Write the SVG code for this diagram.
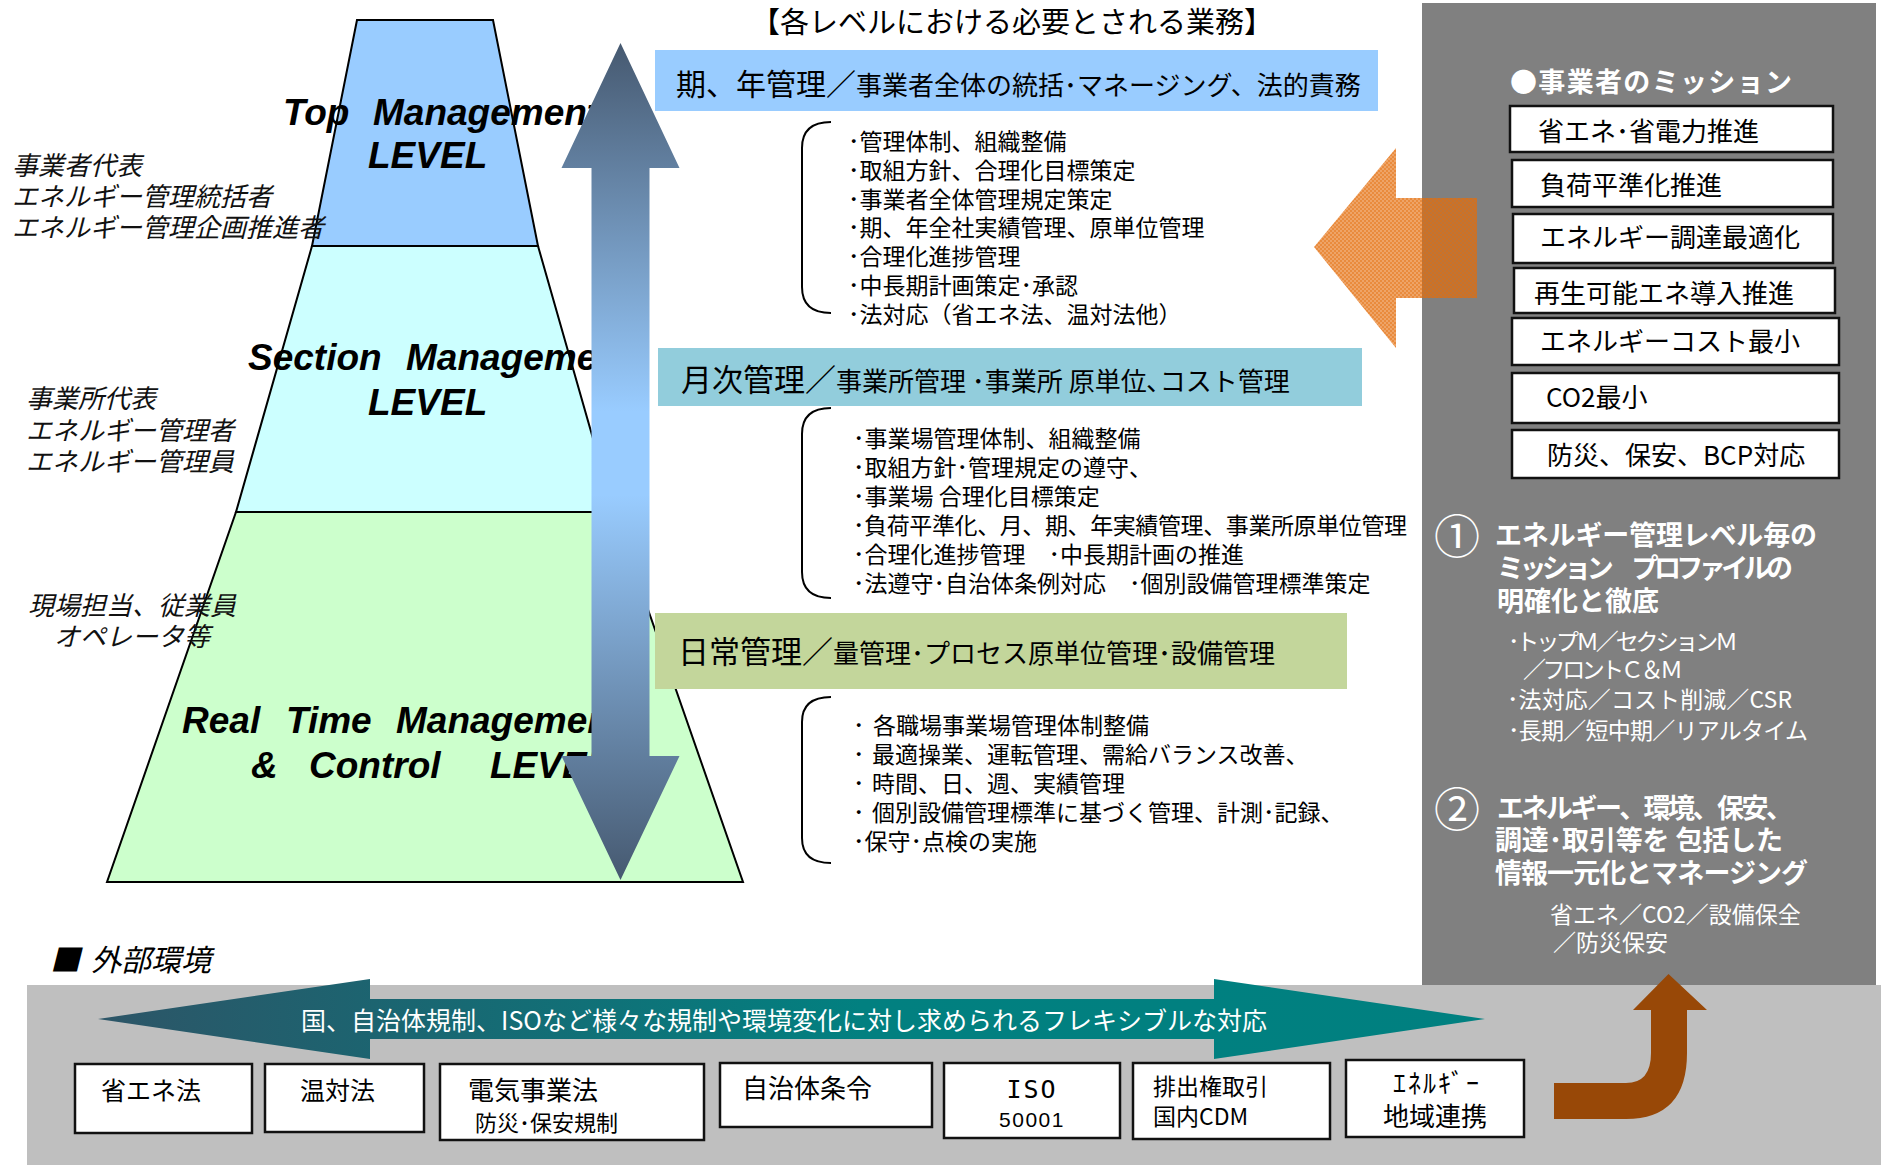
<svg xmlns="http://www.w3.org/2000/svg" width="1881" height="1165" viewBox="0 0 1881 1165">
<style>
.jp{font-family:"Noto Sans CJK JP","Noto Sans",sans-serif;fill:#000}
.lvl{font-family:"Liberation Sans",Arial,sans-serif;font-weight:bold;font-style:italic;font-size:37px;fill:#000}
.role{font-family:"Noto Sans CJK JP",sans-serif;font-style:italic;font-size:26px;fill:#111}
.bul{font-size:23px}
.big{font-size:30px}
.sml{font-size:26px}
.mis{font-size:26px}
.wb{font-family:"Noto Sans CJK JP",sans-serif;font-weight:bold;font-size:27px;fill:#fff}
.ws{font-family:"Noto Sans CJK JP",sans-serif;font-size:23px;fill:#fff}
.num{font-family:"Noto Sans CJK JP",sans-serif;font-size:46px;fill:#fff}
.box{fill:#fff;stroke:#111;stroke-width:2.5}
.pyr{stroke:#000;stroke-width:2}
.brace{fill:none;stroke:#000;stroke-width:2}
</style>
<defs>
<linearGradient id="vgrad" gradientUnits="userSpaceOnUse" x1="0" y1="43" x2="0" y2="880">
<stop offset="0" stop-color="#465970"/>
<stop offset="0.44" stop-color="#99CCFF"/>
<stop offset="0.54" stop-color="#99CCFF"/>
<stop offset="1" stop-color="#465970"/>
</linearGradient>
<linearGradient id="tgrad" gradientUnits="userSpaceOnUse" x1="98" y1="0" x2="1485" y2="0">
<stop offset="0" stop-color="#2D5567"/>
<stop offset="0.2" stop-color="#1C6470"/>
<stop offset="0.55" stop-color="#028080"/>
<stop offset="1" stop-color="#008080"/>
</linearGradient>
<pattern id="otex" width="4" height="4" patternUnits="userSpaceOnUse">
<rect width="4" height="4" fill="#E46C0A" fill-opacity="0.62"/>
<rect width="2" height="2" fill="#E46C0A" fill-opacity="0.45"/>
<rect x="2" y="2" width="2" height="2" fill="#E46C0A" fill-opacity="0.45"/>
</pattern>
</defs>
<rect width="1881" height="1165" fill="#fff"/>

<g id="pyramid">
<g id="level-top">
<polygon class="pyr" points="357,20 493,20 538,246 312,246" fill="#99CCFF"/>
<text class="lvl"><tspan x="283" y="125">Top</tspan><tspan x="373" y="125">Management</tspan><tspan x="368" y="168">LEVEL</tspan></text>
</g>
<g id="level-section">
<polygon class="pyr" points="312,246 538,246 614,512 236,512" fill="#CCFFFF"/>
<text class="lvl"><tspan x="248" y="370">Section</tspan><tspan x="406" y="370">Management</tspan><tspan x="368" y="415">LEVEL</tspan></text>
</g>
<g id="level-realtime">
<polygon class="pyr" points="236,512 614,512 743,882 107,882" fill="#CCFFCC"/>
<text class="lvl"><tspan x="182" y="733">Real</tspan><tspan x="286" y="733">Time</tspan><tspan x="396" y="733">Management</tspan><tspan x="251" y="778">&amp;</tspan><tspan x="309" y="778">Control</tspan><tspan x="490" y="778">LEVEL</tspan></text>
</g>
</g>

<g id="roles">
<text class="role"><tspan x="12" y="175">事業者代表</tspan><tspan x="12" y="206">エネルギー管理統括者</tspan><tspan x="12" y="237">エネルギー管理企画推進者</tspan></text>
<text class="role"><tspan x="26" y="408">事業所代表</tspan><tspan x="26" y="440">エネルギー管理者</tspan><tspan x="26" y="471">エネルギー管理員</tspan></text>
<text class="role" text-anchor="middle"><tspan x="132" y="615">現場担当、従業員</tspan><tspan x="132" y="646">オペレータ等</tspan></text>
</g>

<g id="title">
<text class="jp" x="1012" y="33" font-size="29" text-anchor="middle">【各レベルにおける必要とされる業務】</text>
</g>

<g id="band-top">
<rect x="655" y="50" width="723" height="61" fill="#99CCFF"/>
<text class="jp" x="676" y="95"><tspan class="big">期、年管理／</tspan><tspan class="sml">事業者全体の統括･マネージング、法的責務</tspan></text>
</g>
<g id="tasks-top">
<path class="brace" d="M831,122 C812,122 802,130 802,148 L802,287 C802,305 812,313 831,313"/>
<text class="jp bul">
<tspan x="848" y="150">･管理体制、組織整備</tspan>
<tspan x="848" y="178.8">･取組方針、合理化目標策定</tspan>
<tspan x="848" y="207.6">･事業者全体管理規定策定</tspan>
<tspan x="848" y="236.4">･期、年全社実績管理、原単位管理</tspan>
<tspan x="848" y="265.2">･合理化進捗管理</tspan>
<tspan x="848" y="294">･中長期計画策定･承認</tspan>
<tspan x="848" y="322.8">･法対応（省エネ法、温対法他）</tspan>
</text>
</g>

<g id="band-section">
<rect x="658" y="348" width="704" height="58" fill="#92CDDC"/>
<text class="jp" x="681" y="391"><tspan font-size="31">月次管理／</tspan><tspan class="sml">事業所管理 ･事業所 原単位､コスト管理</tspan></text>
</g>
<g id="tasks-section">
<path class="brace" d="M831,408 C812,408 802,416 802,434 L802,572 C802,590 812,598 831,598"/>
<text class="jp bul">
<tspan x="853" y="447">･事業場管理体制、組織整備</tspan>
<tspan x="853" y="476">･取組方針･管理規定の遵守、</tspan>
<tspan x="853" y="505">･事業場 合理化目標策定</tspan>
</text>
<text class="jp bul" x="853" y="534" textLength="554" lengthAdjust="spacing">･負荷平準化、月、期、年実績管理、事業所原単位管理</text>
<text class="jp bul">
<tspan x="853" y="563">･合理化進捗管理　･中長期計画の推進</tspan>
<tspan x="853" y="592">･法遵守･自治体条例対応　･個別設備管理標準策定</tspan>
</text>
</g>

<g id="band-realtime">
<rect x="655" y="613" width="692" height="76" fill="#C3D69B"/>
<text class="jp" x="678" y="663"><tspan font-size="31">日常管理／</tspan><tspan class="sml">量管理･プロセス原単位管理･設備管理</tspan></text>
</g>
<g id="tasks-realtime">
<path class="brace" d="M831,697 C812,697 802,705 802,722 L802,838 C802,855 812,863 831,863"/>
<text class="jp bul">
<tspan x="853" y="734">･</tspan><tspan x="873" y="734">各職場事業場管理体制整備</tspan>
<tspan x="853" y="763">･</tspan><tspan x="872" y="763">最適操業、運転管理、需給バランス改善、</tspan>
<tspan x="853" y="792">･</tspan><tspan x="872" y="792">時間、日、週、実績管理</tspan>
<tspan x="853" y="821">･</tspan><tspan x="872" y="821">個別設備管理標準に基づく管理、計測･記録、</tspan>
<tspan x="853" y="850">･保守･点検の実施</tspan>
</text>
</g>

<g id="mission-panel">
<rect x="1422" y="3" width="454" height="982" fill="#808080"/>
<text class="wb" x="1510" y="92" font-size="29" textLength="282" lengthAdjust="spacing">●事業者のミッション</text>
</g>

<g id="connectors">
<polygon id="vertical-arrow" points="620.5,43 679.5,168 649.5,168 649.5,756 679.5,756 620.5,880 561.5,756 591.5,756 591.5,168 561.5,168" fill="url(#vgrad)"/>
<polygon id="mission-arrow" points="1314,247 1396,148 1396,198 1477,198 1477,298 1396,298 1396,348" fill="url(#otex)"/>
</g>

<g id="mission-1"><rect class="box" x="1510" y="106" width="323" height="46"/><text class="jp mis" x="1538" y="141">省エネ･省電力推進</text></g>
<g id="mission-2"><rect class="box" x="1512" y="160" width="321" height="47"/><text class="jp mis" x="1540" y="195">負荷平準化推進</text></g>
<g id="mission-3"><rect class="box" x="1513" y="214" width="320" height="49"/><text class="jp mis" x="1540" y="247">エネルギー調達最適化</text></g>
<g id="mission-4"><rect class="box" x="1514" y="268" width="321" height="45"/><text class="jp mis" x="1534" y="303">再生可能エネ導入推進</text></g>
<g id="mission-5"><rect class="box" x="1512" y="318" width="327" height="47"/><text class="jp mis" x="1540" y="351">エネルギーコスト最小</text></g>
<g id="mission-6"><rect class="box" x="1512" y="373" width="327" height="50"/><text class="jp mis" x="1546" y="407">CO2最小</text></g>
<g id="mission-7"><rect class="box" x="1512" y="430" width="327" height="48"/><text class="jp mis" x="1547" y="465">防災、保安、BCP対応</text></g>

<g id="point-1">
<text class="num" x="1434" y="553">①</text>
<text class="wb" x="1495" y="545" textLength="322" lengthAdjust="spacing">エネルギー管理レベル毎の</text>
<text class="wb" x="1497" y="578" textLength="296" lengthAdjust="spacing">ミッション　プロファイルの</text>
<text class="wb" x="1497" y="611">明確化と徹底</text>
<text class="ws" x="1508" y="650" textLength="230" lengthAdjust="spacing">･トップＭ／セクションＭ</text>
<text class="ws" x="1523" y="678" textLength="160" lengthAdjust="spacing">／フロントＣ＆Ｍ</text>
<text class="ws" x="1507" y="708" textLength="285" lengthAdjust="spacing">･法対応／コスト削減／CSR</text>
<text class="ws" x="1508" y="739" textLength="300" lengthAdjust="spacing">･長期／短中期／リアルタイム</text>
</g>
<g id="point-2">
<text class="num" x="1434" y="826">②</text>
<text class="wb" x="1497" y="818" textLength="296" lengthAdjust="spacing">エネルギー、環境、保安、</text>
<text class="wb" x="1495" y="850" textLength="288" lengthAdjust="spacing">調達･取引等を 包括した</text>
<text class="wb" x="1495" y="883" textLength="313" lengthAdjust="spacing">情報一元化とマネージング</text>
<text class="ws" x="1550" y="923" font-size="24">省エネ／CO2／設備保全</text>
<text class="ws" x="1553" y="951" font-size="24">／防災保安</text>
</g>

<g id="external">
<text class="jp" font-style="italic" font-size="30"><tspan x="50" y="971">■</tspan><tspan x="91" y="971">外部環境</tspan></text>
<rect x="27" y="985" width="1854" height="180" fill="#BFBFBF"/>
</g>

<g id="connectors-external">
<polygon id="flex-arrow" points="98,1019 370,979 370,999 1214,999 1214,979 1485,1019 1214,1059 1214,1039 370,1039 370,1059" fill="url(#tgrad)"/>
<text class="jp" x="784" y="1030" font-size="25" text-anchor="middle" style="fill:#fff">国、自治体規制、ISOなど様々な規制や環境変化に対し求められるフレキシブルな対応</text>
<path id="up-arrow" d="M1554,1083 L1626,1083 Q1651,1083 1651,1053 L1651,1010 L1633,1010 L1668.5,974 L1707,1010 L1687,1010 L1687,1053 Q1687,1119 1626,1119 L1554,1119 Z" fill="#984807"/>
</g>

<g id="law-1"><rect class="box" x="75" y="1064" width="177" height="69"/><text class="jp" x="101" y="1100" font-size="25">省エネ法</text></g>
<g id="law-2"><rect class="box" x="265" y="1064" width="159" height="68"/><text class="jp" x="300" y="1100" font-size="25">温対法</text></g>
<g id="law-3"><rect class="box" x="440" y="1064" width="264" height="76"/><text class="jp"><tspan x="468" y="1100" font-size="26">電気事業法</tspan><tspan x="475" y="1131" font-size="22">防災･保安規制</tspan></text></g>
<g id="law-4"><rect class="box" x="720" y="1063" width="212" height="64"/><text class="jp" x="742" y="1098" font-size="26">自治体条令</text></g>
<g id="law-5"><rect class="box" x="944" y="1063" width="176" height="75"/><text text-anchor="middle" x="1032" y="1098" font-size="25" letter-spacing="2" style="font-family:'DejaVu Sans Mono',monospace">ISO</text><text text-anchor="middle" x="1032" y="1127" font-size="21" letter-spacing="1.5" style="font-family:'Liberation Sans',Arial,sans-serif">50001</text></g>
<g id="law-6"><rect class="box" x="1133" y="1063" width="197" height="76"/><text class="jp" font-size="23"><tspan x="1153" y="1095">排出権取引</tspan><tspan x="1153" y="1125">国内CDM</tspan></text></g>
<g id="law-7"><rect class="box" x="1346" y="1060" width="178" height="77"/><text class="jp" text-anchor="middle"><tspan x="1437" y="1093" font-size="26" letter-spacing="2">ｴﾈﾙｷﾞｰ</tspan><tspan x="1435" y="1126" font-size="26">地域連携</tspan></text></g>
</svg>
